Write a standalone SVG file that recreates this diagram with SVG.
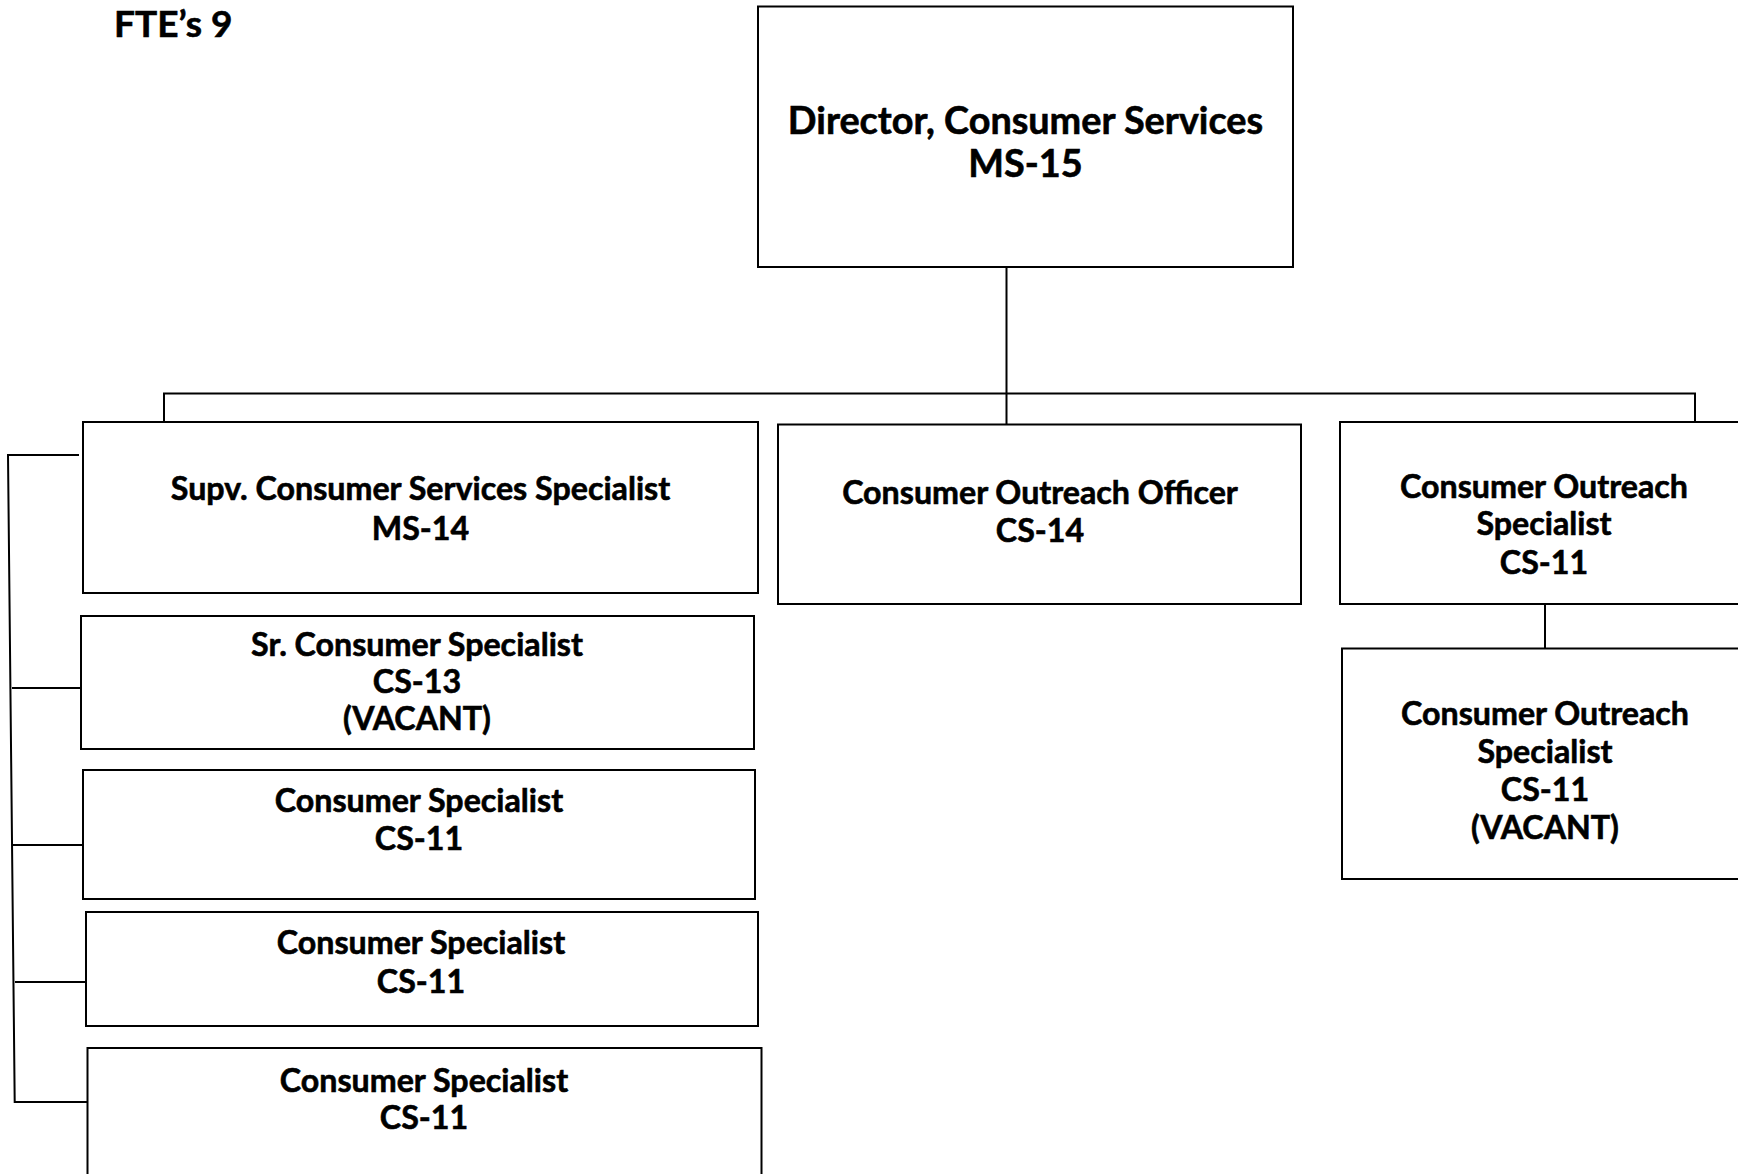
<svg xmlns="http://www.w3.org/2000/svg" width="1738" height="1174" viewBox="0 0 1738 1174">
<style>
.box{fill:#fff;stroke:#000;stroke-width:2}
.ln{fill:none;stroke:#000;stroke-width:2}
text{font-family:Lato,"Open Sans","Liberation Sans",sans-serif;font-weight:bold;fill:#000;stroke:#000;stroke-width:0.6;text-anchor:middle}
.t{font-size:32.2px}
.big{font-size:37.8px}
</style>
<rect width="1738" height="1174" fill="#fff"/>
<text x="114" y="37" style="text-anchor:start;font-size:37px">FTE’s 9</text>
<g id="connectors">
<path class="ln" d="M1006.5 267 V393.5 M164 422 V393.5 H1695 V422 M1006.5 393.5 V424.5"/>
<path class="ln" d="M1545 604 V648.5"/>
<path class="ln" d="M79 455 H8 L14.7 1102 H87.5"/>
<path class="ln" d="M12 688 H81 M12.5 845 H83 M15 982 H86"/>
</g>
<g id="director">
<rect class="box" x="758" y="6.5" width="535" height="260.5"/>
<text class="big" x="1025.5" y="134">Director, Consumer Services</text>
<text class="big" x="1025.5" y="177">MS-15</text>
</g>
<g id="supv">
<rect class="box" x="83" y="422" width="675" height="171"/>
<text class="t" x="420.5" y="500">Supv. Consumer Services Specialist</text>
<text class="t" x="420.5" y="540">MS-14</text>
</g>
<g id="officer">
<rect class="box" x="778" y="424.5" width="523" height="179.5"/>
<text class="t" x="1040" y="504">Consumer Outreach Officer</text>
<text class="t" x="1040" y="542">CS-14</text>
</g>
<g id="outreach1">
<rect class="box" x="1340" y="422" width="420" height="182"/>
<text class="t" x="1544" y="498">Consumer Outreach</text>
<text class="t" x="1544" y="535">Specialist</text>
<text class="t" x="1544" y="574">CS-11</text>
</g>
<g id="outreach2">
<rect class="box" x="1342" y="648.5" width="420" height="230.5"/>
<text class="t" x="1545" y="725">Consumer Outreach</text>
<text class="t" x="1545" y="763">Specialist</text>
<text class="t" x="1545" y="801">CS-11</text>
<text class="t" x="1545" y="839">(VACANT)</text>
</g>
<g id="sr">
<rect class="box" x="81" y="616" width="673" height="133"/>
<text class="t" x="417" y="656">Sr. Consumer Specialist</text>
<text class="t" x="417" y="693">CS-13</text>
<text class="t" x="417" y="730">(VACANT)</text>
</g>
<g id="cs1">
<rect class="box" x="83" y="770" width="672" height="129"/>
<text class="t" x="419" y="812">Consumer Specialist</text>
<text class="t" x="419" y="850">CS-11</text>
</g>
<g id="cs2">
<rect class="box" x="86" y="912" width="672" height="114"/>
<text class="t" x="421" y="954">Consumer Specialist</text>
<text class="t" x="421" y="993">CS-11</text>
</g>
<g id="cs3">
<rect class="box" x="87.5" y="1048" width="674" height="160"/>
<text class="t" x="424" y="1092">Consumer Specialist</text>
<text class="t" x="424" y="1129">CS-11</text>
</g>
</svg>
